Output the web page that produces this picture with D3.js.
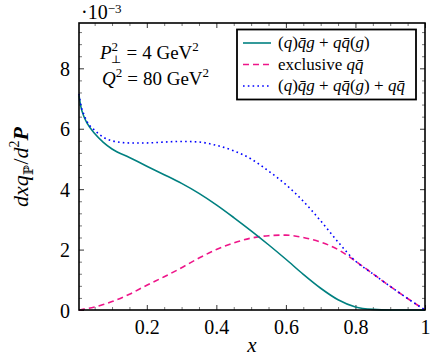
<!DOCTYPE html>
<html lang="en">
<head>
  <meta charset="UTF-8">
  <title>dxq/d2P vs x</title>
  <script src="https://d3js.org/d3.v7.min.js"></script>
  <style>
    svg text { font-family: "Liberation Serif", "Times New Roman", "DejaVu Serif", serif; }
  </style>
</head>
<body style="margin: 0; padding: 0; background: #fff;">
  <svg id="chart" width="435" height="358"></svg>
  <script>
    // values (y in units of 1e-3)
    const xs       = [0.005, 0.01, 0.02, 0.03, 0.05, 0.075, 0.1, 0.15, 0.2, 0.25, 0.3, 0.35, 0.4, 0.45, 0.5, 0.55, 0.6, 0.65, 0.7, 0.75, 0.8, 0.85, 0.9, 0.95, 1.0];
    const qqg      = [7.1, 6.75, 6.38, 6.15, 5.84, 5.55, 5.33, 5.05, 4.76, 4.48, 4.19, 3.86, 3.48, 3.06, 2.62, 2.16, 1.68, 1.18, 0.72, 0.34, 0.1, 0.02, 0.0, 0.0, 0.0];
    const exclQQ   = [0.0, 0.01, 0.03, 0.05, 0.1, 0.18, 0.28, 0.52, 0.82, 1.1, 1.4, 1.72, 2.0, 2.22, 2.38, 2.46, 2.48, 2.4, 2.25, 2.0, 1.62, 1.2, 0.78, 0.38, 0.0];
    const total    = [7.15, 6.8, 6.45, 6.2, 5.95, 5.72, 5.6, 5.53, 5.53, 5.56, 5.58, 5.56, 5.45, 5.27, 5.0, 4.6, 4.15, 3.6, 2.95, 2.25, 1.62, 1.2, 0.78, 0.38, 0.0];
    const xTicks   = [0.2, 0.4, 0.6, 0.8, 1];
    const yTicks   = [0, 2, 4, 6, 8];

    const mLeft = 79, mRight = 425, mTop = 23, mBottom = 310;

    const svg = d3.select("#chart");

    const x = d3.scaleLinear().domain([0.005, 1]).range([mLeft, mRight]);
    const y = d3.scaleLinear().domain([0, 9.5]).range([mBottom, mTop]);

    // minor ticks
    const xMinor = d3.range(0.05, 1.0001, 0.05).filter(v => Math.abs(v * 5 - Math.round(v * 5)) > 1e-6);
    const yMinor = d3.range(0.4, 9.5, 0.4).filter(v => Math.abs(v / 2 - Math.round(v / 2)) > 1e-6);

    function minorAxis(axis, pos, vals) {
      const g = svg.append("g").attr("transform", pos)
        .call(axis.tickValues(vals).tickSize(-3).tickFormat(""));
      g.select(".domain").remove();
      g.selectAll("line").attr("stroke", "#555").attr("stroke-width", 0.8);
    }
    minorAxis(d3.axisBottom(x), `translate(0,${mBottom})`, xMinor);
    minorAxis(d3.axisTop(x), `translate(0,${mTop})`, xMinor);
    minorAxis(d3.axisLeft(y), `translate(${mLeft},0)`, yMinor);
    minorAxis(d3.axisRight(y), `translate(${mRight},0)`, yMinor);

    // major ticks
    const gx = svg.append("g").attr("transform", `translate(0,${mBottom})`)
      .call(d3.axisBottom(x).tickValues(xTicks).tickSize(-5).tickPadding(7).tickFormat(d => d === 1 ? "1" : d3.format(".1f")(d)));
    const gy = svg.append("g").attr("transform", `translate(${mLeft},0)`)
      .call(d3.axisLeft(y).tickValues(yTicks).tickSize(-5).tickPadding(9).tickFormat(d3.format("d")));
    svg.append("g").attr("transform", `translate(0,${mTop})`)
      .call(d3.axisTop(x).tickValues(xTicks).tickSize(-5).tickFormat(""));
    svg.append("g").attr("transform", `translate(${mRight},0)`)
      .call(d3.axisRight(y).tickValues(yTicks).tickSize(-5).tickFormat(""));
    svg.selectAll(".domain").remove();
    svg.selectAll("g.tick line").attr("stroke-width", 0.8);
    [gx, gy].forEach(g => g.selectAll("text").attr("font-size", 20).attr("fill", "#000"));
    gx.selectAll("text").attr("dy", "0.85em");
    gy.selectAll("text").attr("dy", "0.35em");

    // curves
    const line = d3.line().x(d => x(d[0])).y(d => y(d[1])).curve(d3.curveMonotoneX);
    const plot = svg.append("g");
    plot.append("path").attr("d", line(d3.zip(xs, exclQQ)))
      .attr("fill", "none").attr("stroke", "#ee1589").attr("stroke-width", 1.6).attr("stroke-dasharray", "6,4");
    plot.append("path").attr("d", line(d3.zip(xs, qqg)))
      .attr("fill", "none").attr("stroke", "#008080").attr("stroke-width", 1.6);
    plot.append("path").attr("d", line(d3.zip(xs, total)))
      .attr("fill", "none").attr("stroke", "#0000ff").attr("stroke-width", 1.6)
      .attr("stroke-dasharray", "1.6,3.2");

    // frame
    svg.append("rect").attr("x", mLeft).attr("y", mTop).attr("width", mRight - mLeft).attr("height", mBottom - mTop)
      .attr("fill", "none").attr("stroke", "#000").attr("stroke-width", 1.6);

    // exponent label
    const ex = svg.append("text").attr("x", 81).attr("y", 19).attr("font-size", 20);
    ex.append("tspan").text("\u00b710");
    ex.append("tspan").attr("dy", -6).attr("font-size", 13).text("\u22123");

    // axis labels
    svg.append("text").attr("x", 252).attr("y", 352).attr("text-anchor", "middle")
      .attr("font-size", 21).attr("font-style", "italic").text("x");

    const yl = svg.append("text").attr("transform", "translate(28,167) rotate(-90)")
      .attr("text-anchor", "middle").attr("font-size", 22);
    yl.append("tspan").attr("font-style", "italic").text("dxq");
    yl.append("tspan").attr("dy", 5).attr("font-size", 13).text("\u2119");
    yl.append("tspan").attr("dy", -5).attr("dx", 1).text("/");
    yl.append("tspan").attr("font-style", "italic").text("d");
    yl.append("tspan").attr("dy", -9).attr("font-size", 14).text("2");
    yl.append("tspan").attr("dy", 9).attr("font-weight", "bold").attr("font-style", "italic").text("P");

    // parameter annotation
    const a1 = svg.append("text").attr("x", 100).attr("y", 59).attr("font-size", 19);
    a1.append("tspan").attr("font-style", "italic").text("P");
    a1.append("tspan").attr("dy", -8).attr("font-size", 13).text("2");
    a1.append("tspan").attr("dx", -7).attr("dy", 12).attr("font-size", 11).text("\u22a5");
    a1.append("tspan").attr("dy", -4).attr("dx", 5).text("=");
    a1.append("tspan").attr("dx", 5).text("4 GeV");
    a1.append("tspan").attr("dy", -8).attr("font-size", 13).text("2");

    const a2 = svg.append("text").attr("x", 102).attr("y", 85).attr("font-size", 19);
    a2.append("tspan").attr("font-style", "italic").text("Q");
    a2.append("tspan").attr("dy", -8).attr("font-size", 13).text("2");
    a2.append("tspan").attr("dy", 8).attr("dx", 5).text("=");
    a2.append("tspan").attr("dx", 5).text("80 GeV");
    a2.append("tspan").attr("dy", -8).attr("font-size", 13).text("2");

    // legend
    const lg = svg.append("g");
    lg.append("rect").attr("x", 237).attr("y", 29.5).attr("width", 179).attr("height", 70)
      .attr("fill", "#fff").attr("stroke", "#000").attr("stroke-width", 1.8);
    const rows = [
      { color: "#008080", dash: null, parts: [["(", 0], ["q", 1], [")", 0], ["q\u0304", 1], ["g", 1], [" + ", 0], ["qq\u0304", 1], ["(", 0], ["g", 1], [")", 0]] },
      { color: "#ee1589", dash: "6,4", parts: [["exclusive ", 0], ["qq\u0304", 1]] },
      { color: "#0000ff", dash: "1.6,3.2", parts: [["(", 0], ["q", 1], [")", 0], ["q\u0304", 1], ["g", 1], [" + ", 0], ["qq\u0304", 1], ["(", 0], ["g", 1], [")", 0], [" + ", 0], ["qq\u0304", 1]] }
    ];
    rows.forEach((r, i) => {
      const cy = 43 + i * 21.5;
      lg.append("line").attr("x1", 243).attr("x2", 271).attr("y1", cy).attr("y2", cy)
        .attr("stroke", r.color).attr("stroke-width", 1.6).attr("stroke-dasharray", r.dash);
      const t = lg.append("text").attr("x", 278).attr("y", cy + 5).attr("font-size", 17);
      r.parts.forEach(p => t.append("tspan").attr("font-style", p[1] ? "italic" : "normal").text(p[0]));
    });
  </script>
</body>
</html>
